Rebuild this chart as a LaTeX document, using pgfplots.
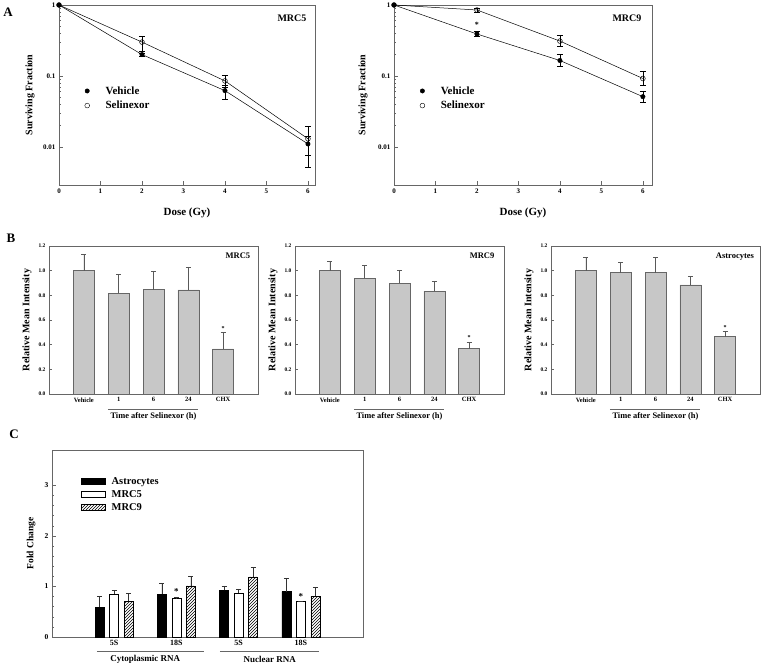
\documentclass[border=0pt]{standalone}
\usepackage{fontspec}
\setmainfont{Liberation Serif}
\usepackage{pgfplots}
\pgfplotsset{compat=1.18}
\usetikzlibrary{patterns}
\pgfkeys{/pgf/number format/assume math mode=true}
\newcommand{\fs}[1]{\fontsize{#1}{#1}\selectfont\bfseries}
\definecolor{frame}{gray}{0.40}
\definecolor{barfill}{gray}{0.78}
\definecolor{errc}{gray}{0.35}
\begin{document}
\begin{tikzpicture}[x=1pt,y=1pt]
\path[use as bounding box] (0,0) rectangle (763,668);
\node[font=\fs{13}] at (8,656) {A};
\node[font=\fs{13}] at (11,430) {B};
\node[font=\fs{13}] at (14,234) {C};

% ---------- A left: MRC5
\begin{axis}[at={(59pt,483pt)}, anchor=south west, width=256pt, height=180pt, scale only axis, clip=false,
  ymode=log, ymin=0.0029, ymax=1, xmin=0, xmax=6.17,
  axis line style={frame, line width=0.6pt}, tick style={frame, line width=0.5pt}, tick align=inside,
  xtick pos=left, ytick pos=left,
  xtick={0,1,2,3,4,5,6}, ytick={0.01,0.1,1}, yticklabels={0.01,0.1,1},
  tick label style={font=\fs{7}}, major tick length=4pt, minor tick length=2pt,
  xlabel={Dose (Gy)}, ylabel={Surviving Fraction}, xlabel style={font=\fs{11}}, ylabel style={font=\fs{10}},
  xlabel style={at={(axis description cs:0.5,-0.156)}, anchor=center},
  ylabel style={at={(axis description cs:-0.113,0.5)}, anchor=center},
  legend style={draw=none, fill=none, font=\fs{11}, row sep=1.5pt, inner sep=0pt, at={(0.1,0.56)}, anchor=north west,
    /tikz/every odd column/.append style={column sep=14pt}},
  legend cell align=left]
\addlegendimage{only marks, mark=*, mark size=2.2pt, black}
\addlegendentry{Vehicle}
\addlegendimage{only marks, mark=o, mark size=2.4pt, black}
\addlegendentry{Selinexor}
\addplot[draw=none, mark=none, forget plot, error bars/y dir=both, error bars/y explicit, error bars/error bar style={black, line width=0.5pt}, error bars/error mark options={black, rotate=90, mark size=3pt, line width=0.5pt}]
 coordinates {(2,0.2) += (0,0.01) -= (0,0.01) (4,0.062) += (0,0.013) -= (0,0.015) (6,0.011) += (0,0.003) -= (0,0.0058)};
\addplot[draw=none, mark=none, forget plot, error bars/y dir=both, error bars/y explicit, error bars/error bar style={black, line width=0.5pt}, error bars/error mark options={black, rotate=90, mark size=3pt, line width=0.5pt}]
 coordinates {(2,0.30) += (0,0.066) -= (0,0.075) (4,0.085) += (0,0.018) -= (0,0.015) (6,0.013) += (0,0.0068) -= (0,0.0053)};
\addplot[black, line width=0.5pt, mark=*, mark size=2.2pt, mark options={fill=black}, forget plot] coordinates {(0,1) (2,0.2) (4,0.062) (6,0.011)};
\addplot[black, line width=0.5pt, mark=o, mark size=2.4pt, mark options={fill=white}, forget plot] coordinates {(0,1) (2,0.30) (4,0.085) (6,0.013)};
\node[font=\fs{10}] at (rel axis cs:0.91,0.928) {MRC5};
\end{axis}

% ---------- A right: MRC9
\begin{axis}[at={(394pt,483pt)}, anchor=south west, width=258pt, height=180pt, scale only axis, clip=false,
  ymode=log, ymin=0.0029, ymax=1, xmin=0, xmax=6.22,
  axis line style={frame, line width=0.6pt}, tick style={frame, line width=0.5pt}, tick align=inside,
  xtick pos=left, ytick pos=left,
  xtick={0,1,2,3,4,5,6}, ytick={0.01,0.1,1}, yticklabels={0.01,0.1,1},
  tick label style={font=\fs{7}}, major tick length=4pt, minor tick length=2pt,
  xlabel={Dose (Gy)}, ylabel={Surviving Fraction}, xlabel style={font=\fs{11}}, ylabel style={font=\fs{10}},
  xlabel style={at={(axis description cs:0.5,-0.156)}, anchor=center},
  ylabel style={at={(axis description cs:-0.12,0.5)}, anchor=center},
  legend style={draw=none, fill=none, font=\fs{11}, row sep=1.5pt, inner sep=0pt, at={(0.1,0.56)}, anchor=north west,
    /tikz/every odd column/.append style={column sep=14pt}},
  legend cell align=left]
\addlegendimage{only marks, mark=*, mark size=2.2pt, black}
\addlegendentry{Vehicle}
\addlegendimage{only marks, mark=o, mark size=2.4pt, black}
\addlegendentry{Selinexor}
\addplot[draw=none, mark=none, forget plot, error bars/y dir=both, error bars/y explicit, error bars/error bar style={black, line width=0.5pt}, error bars/error mark options={black, rotate=90, mark size=3pt, line width=0.5pt}]
 coordinates {(2,0.39) += (0,0.04) -= (0,0.03) (4,0.165) += (0,0.035) -= (0,0.03) (6,0.051) += (0,0.009) -= (0,0.008)};
\addplot[draw=none, mark=none, forget plot, error bars/y dir=both, error bars/y explicit, error bars/error bar style={black, line width=0.5pt}, error bars/error mark options={black, rotate=90, mark size=3pt, line width=0.5pt}]
 coordinates {(2,0.85) += (0,0.05) -= (0,0.05) (4,0.31) += (0,0.06) -= (0,0.05) (6,0.092) += (0,0.023) -= (0,0.017)};
\addplot[black, line width=0.5pt, mark=*, mark size=2.2pt, mark options={fill=black}, forget plot] coordinates {(0,1) (2,0.39) (4,0.165) (6,0.051)};
\addplot[black, line width=0.5pt, mark=o, mark size=2.4pt, mark options={fill=white}, forget plot] coordinates {(0,1) (2,0.85) (4,0.31) (6,0.092)};
\node[font=\fs{8}] at (axis cs:2,0.53) {*};
\node[font=\fs{10}] at (rel axis cs:0.903,0.928) {MRC9};
\end{axis}

% ---------- B1
\begin{axis}[at={(49pt,274pt)}, anchor=south west, width=209pt, height=148pt, scale only axis, clip=false,
  ybar, bar width=0.6, ymin=0, ymax=1.2, xmin=-1, xmax=5,
  axis line style={frame, line width=0.6pt}, tick style={frame, line width=0.5pt}, tick align=inside,
  xtick pos=left, ytick pos=left, major tick length=3pt,
  xtick={0,1,2,3,4}, xticklabels={Vehicle,1,6,24,CHX}, major x tick style={draw=none},
  ytick={0,0.2,0.4,0.6,0.8,1.0,1.2}, yticklabels={0.0,0.2,0.4,0.6,0.8,1.0,1.2},
  yticklabel style={font=\fs{5.5}}, xticklabel style={font=\fs{6.5}},
  ylabel={Relative Mean Intensity}, xlabel={Time after Selinexor (h)},
  ylabel style={font=\fs{10}, at={(axis description cs:-0.105,0.5)}, anchor=center},
  xlabel style={font=\fs{8.4}, at={(axis description cs:0.5,-0.149)}, anchor=center}]
\addplot[fill=barfill, draw=frame, line width=0.5pt, error bars/y dir=plus, error bars/y explicit, error bars/error bar style={errc, line width=0.5pt}, error bars/error mark options={errc, rotate=90, mark size=2.5pt, line width=0.5pt}]
 coordinates {(0,1.0) +- (0,0.13) (1,0.815) +- (0,0.155) (2,0.847) +- (0,0.15) (3,0.845) +- (0,0.185) (4,0.365) +- (0,0.135)};
\node[font=\fs{6}] at (axis cs:4,0.53) {*};
\node[font=\fs{8.5}] at (rel axis cs:0.904,0.932) {MRC5};
\draw[frame] ([yshift=-15pt]axis cs:0.69,0) -- ([yshift=-15pt]axis cs:3.28,0);
\end{axis}

% ---------- B2
\begin{axis}[at={(295pt,274pt)}, anchor=south west, width=209pt, height=148pt, scale only axis, clip=false,
  ybar, bar width=0.6, ymin=0, ymax=1.2, xmin=-1, xmax=5,
  axis line style={frame, line width=0.6pt}, tick style={frame, line width=0.5pt}, tick align=inside,
  xtick pos=left, ytick pos=left, major tick length=3pt,
  xtick={0,1,2,3,4}, xticklabels={Vehicle,1,6,24,CHX}, major x tick style={draw=none},
  ytick={0,0.2,0.4,0.6,0.8,1.0,1.2}, yticklabels={0.0,0.2,0.4,0.6,0.8,1.0,1.2},
  yticklabel style={font=\fs{5.5}}, xticklabel style={font=\fs{6.5}},
  ylabel={Relative Mean Intensity}, xlabel={Time after Selinexor (h)},
  ylabel style={font=\fs{10}, at={(axis description cs:-0.105,0.5)}, anchor=center},
  xlabel style={font=\fs{8.4}, at={(axis description cs:0.5,-0.149)}, anchor=center}]
\addplot[fill=barfill, draw=frame, line width=0.5pt, error bars/y dir=plus, error bars/y explicit, error bars/error bar style={errc, line width=0.5pt}, error bars/error mark options={errc, rotate=90, mark size=2.5pt, line width=0.5pt}]
 coordinates {(0,1.0) +- (0,0.076) (1,0.94) +- (0,0.103) (2,0.897) +- (0,0.106) (3,0.835) +- (0,0.081) (4,0.368) +- (0,0.052)};
\node[font=\fs{6}] at (axis cs:4,0.455) {*};
\node[font=\fs{8.5}] at (rel axis cs:0.895,0.932) {MRC9};
\draw[frame] ([yshift=-15pt]axis cs:0.69,0) -- ([yshift=-15pt]axis cs:3.28,0);
\end{axis}

% ---------- B3
\begin{axis}[at={(551pt,274pt)}, anchor=south west, width=209pt, height=148pt, scale only axis, clip=false,
  ybar, bar width=0.6, ymin=0, ymax=1.2, xmin=-1, xmax=5,
  axis line style={frame, line width=0.6pt}, tick style={frame, line width=0.5pt}, tick align=inside,
  xtick pos=left, ytick pos=left, major tick length=3pt,
  xtick={0,1,2,3,4}, xticklabels={Vehicle,1,6,24,CHX}, major x tick style={draw=none},
  ytick={0,0.2,0.4,0.6,0.8,1.0,1.2}, yticklabels={0.0,0.2,0.4,0.6,0.8,1.0,1.2},
  yticklabel style={font=\fs{5.5}}, xticklabel style={font=\fs{6.5}},
  ylabel={Relative Mean Intensity}, xlabel={Time after Selinexor (h)},
  ylabel style={font=\fs{10}, at={(axis description cs:-0.105,0.5)}, anchor=center},
  xlabel style={font=\fs{8.4}, at={(axis description cs:0.5,-0.149)}, anchor=center}]
\addplot[fill=barfill, draw=frame, line width=0.5pt, error bars/y dir=plus, error bars/y explicit, error bars/error bar style={errc, line width=0.5pt}, error bars/error mark options={errc, rotate=90, mark size=2.5pt, line width=0.5pt}]
 coordinates {(0,1.0) +- (0,0.11) (1,0.985) +- (0,0.081) (2,0.985) +- (0,0.125) (3,0.885) +- (0,0.068) (4,0.465) +- (0,0.04)};
\node[font=\fs{6}] at (axis cs:4,0.535) {*};
\node[font=\fs{8.5}] at (rel axis cs:0.88,0.93) {Astrocytes};
\draw[frame] ([yshift=-15pt]axis cs:0.69,0) -- ([yshift=-15pt]axis cs:3.28,0);
\end{axis}

% ---------- C
\begin{axis}[at={(52pt,31pt)}, anchor=south west, width=311pt, height=187pt, scale only axis, clip=false,
  ybar, bar width=0.145, ymin=0, ymax=3.7, xmin=-1, xmax=4,
  axis line style={frame, line width=0.6pt}, tick style={frame, line width=0.5pt}, tick align=inside,
  xtick pos=left, ytick pos=left,
  ytick={0,1,2,3}, minor y tick num=4, major tick length=4pt, minor tick length=2pt,
  xtick={0,1,2,3}, xticklabels={5S,18S,5S,18S}, major x tick style={draw=none},
  yticklabel style={font=\fs{7.5}}, xticklabel style={font=\fs{8}},
  ylabel={Fold Change},
  ylabel style={font=\fs{9.5}, at={(axis description cs:-0.0675,0.5)}, anchor=center},
  legend style={draw=none, fill=none, font=\fs{10.5}, at={(0.093,0.865)}, anchor=north west, row sep=0.5pt, inner sep=0pt,
    /tikz/every odd column/.append style={column sep=4pt}},
  legend cell align=left,
  legend image code/.code={\draw[#1] (0pt,-3pt) rectangle (24pt,3pt);}]
\addplot[fill=black, draw=black, line width=0.5pt, bar shift=-0.233, error bars/y dir=plus, error bars/y explicit, error bars/error bar style={black!80, line width=0.5pt}, error bars/error mark options={black!80, rotate=90, mark size=2.5pt, line width=0.5pt}]
 coordinates {(0,0.59) +- (0,0.21) (1,0.85) +- (0,0.22) (2,0.92) +- (0,0.09) (3,0.90) +- (0,0.26)};
\addlegendentry{Astrocytes}
\addplot[fill=white, draw=black, line width=0.5pt, bar shift=0, error bars/y dir=plus, error bars/y explicit, error bars/error bar style={black!80, line width=0.5pt}, error bars/error mark options={black!80, rotate=90, mark size=2.5pt, line width=0.5pt}]
 coordinates {(0,0.855) +- (0,0.065) (1,0.76) +- (0,0.03) (2,0.87) +- (0,0.08) (3,0.70) +- (0,0.01)};
\addlegendentry{MRC5}
\addplot[pattern=north east lines, draw=black, line width=0.5pt, bar shift=0.233, error bars/y dir=plus, error bars/y explicit, error bars/error bar style={black!80, line width=0.5pt}, error bars/error mark options={black!80, rotate=90, mark size=2.5pt, line width=0.5pt}]
 coordinates {(0,0.71) +- (0,0.15) (1,1.01) +- (0,0.19) (2,1.19) +- (0,0.19) (3,0.81) +- (0,0.18)};
\addlegendentry{MRC9}
\node[font=\fs{9}] at (axis cs:1,0.9) {*};
\node[font=\fs{9}] at (axis cs:3,0.8) {*};
\draw[frame] ([yshift=-14pt]axis cs:-0.28,0) -- ([yshift=-14pt]axis cs:1.45,0);
\draw[frame] ([yshift=-14pt]axis cs:1.7,0) -- ([yshift=-14pt]axis cs:3.3,0);
\node[font=\fs{9}] at ([yshift=-22pt]axis cs:0.5,0) {Cytoplasmic RNA};
\node[font=\fs{9}] at ([yshift=-22pt]axis cs:2.5,0) {Nuclear RNA};
\end{axis}
\end{tikzpicture}
\end{document}
